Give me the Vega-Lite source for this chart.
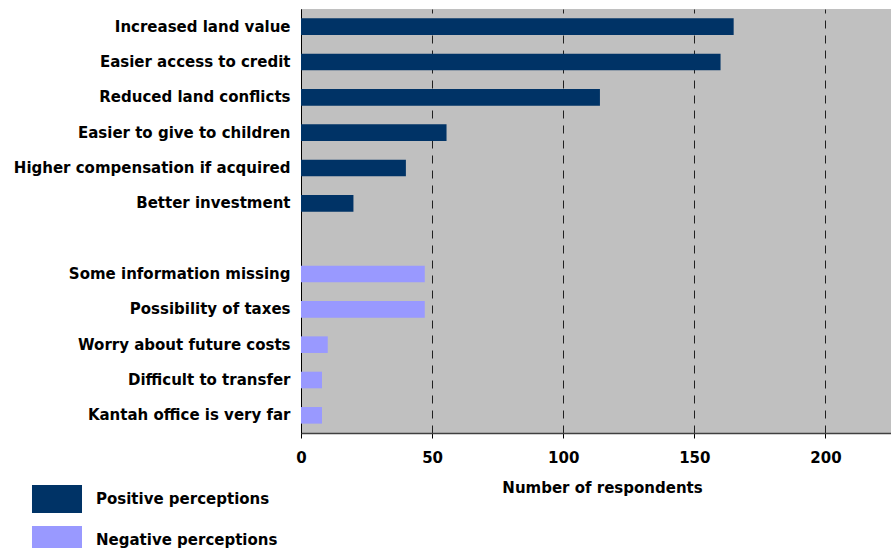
{
  "$schema": "https://vega.github.io/schema/vega-lite/v6.json",
  "autosize": {"type": "none"},
  "width": 590,
  "height": 424,
  "padding": {"left": 301, "top": 9, "right": 0, "bottom": 115},
  "background": "white",
  "config": {
    "view": {"fill": "#C0C0C0", "stroke": null},
    "font": "DejaVu Sans"
  },
  "data": {
    "values": [
      {"item": "Increased land value", "value": 165, "group": "Positive perceptions"},
      {"item": "Easier access to credit", "value": 160, "group": "Positive perceptions"},
      {"item": "Reduced land conflicts", "value": 114, "group": "Positive perceptions"},
      {"item": "Easier to give to children", "value": 55.5, "group": "Positive perceptions"},
      {"item": "Higher compensation if acquired", "value": 40, "group": "Positive perceptions"},
      {"item": "Better investment", "value": 20, "group": "Positive perceptions"},
      {"item": "Some information missing", "value": 47.2, "group": "Negative perceptions"},
      {"item": "Possibility of taxes", "value": 47.2, "group": "Negative perceptions"},
      {"item": "Worry about future costs", "value": 10.2, "group": "Negative perceptions"},
      {"item": "Difficult to transfer", "value": 8, "group": "Negative perceptions"},
      {"item": "Kantah office is very far", "value": 8, "group": "Negative perceptions"}
    ]
  },
  "mark": {"type": "bar"},
  "encoding": {
    "y": {
      "field": "item",
      "type": "nominal",
      "sort": ["Increased land value", "Easier access to credit", "Reduced land conflicts", "Easier to give to children", "Higher compensation if acquired", "Better investment", " ", "Some information missing", "Possibility of taxes", "Worry about future costs", "Difficult to transfer", "Kantah office is very far"],
      "scale": {
        "domain": ["Increased land value", "Easier access to credit", "Reduced land conflicts", "Easier to give to children", "Higher compensation if acquired", "Better investment", " ", "Some information missing", "Possibility of taxes", "Worry about future costs", "Difficult to transfer", "Kantah office is very far"],
        "paddingInner": 0.53,
        "paddingOuter": 0.265
      },
      "axis": {
        "title": null,
        "ticks": false,
        "domainColor": "#000000",
        "domainWidth": 1,
        "labelFont": "DejaVu Sans",
        "labelFontWeight": "bold",
        "labelFontSize": 15,
        "labelColor": "#000000",
        "labelPadding": 11,
        "labelLimit": 400,
        "grid": false
      }
    },
    "x": {
      "field": "value",
      "type": "quantitative",
      "scale": {"domain": [0, 225], "nice": false},
      "axis": {
        "values": [0, 50, 100, 150, 200],
        "title": "Number of respondents",
        "titleFont": "DejaVu Sans",
        "titleFontWeight": "bold",
        "titleFontSize": 15,
        "titleColor": "#000000",
        "titlePadding": 15,
        "titleX": 301,
        "labelFont": "DejaVu Sans",
        "labelFontWeight": "bold",
        "labelFontSize": 15,
        "labelColor": "#000000",
        "labelPadding": 12,
        "labelFlush": false,
        "tickSize": 5,
        "tickColor": "#000000",
        "domainColor": "#404040",
        "domainWidth": 1.5,
        "grid": true,
        "gridColor": "#202020",
        "gridDash": [8, 7],
        "gridWidth": 1
      }
    },
    "color": {
      "field": "group",
      "type": "nominal",
      "scale": {
        "domain": ["Positive perceptions", "Negative perceptions"],
        "range": ["#003366", "#9999FF"]
      },
      "legend": {
        "title": null,
        "orient": "none",
        "legendX": -258,
        "legendY": 476,
        "padding": 0,
        "symbolType": "M-1.8,-1H1.8V1H-1.8Z",
        "symbolSize": 772,
        "symbolStrokeWidth": 0,
        "symbolOpacity": 1,
        "labelFont": "DejaVu Sans",
        "labelFontWeight": "bold",
        "labelFontSize": 15,
        "labelColor": "#000000",
        "labelOffset": 25,
        "rowPadding": 13,
        "labelLimit": 400
      }
    }
  }
}
